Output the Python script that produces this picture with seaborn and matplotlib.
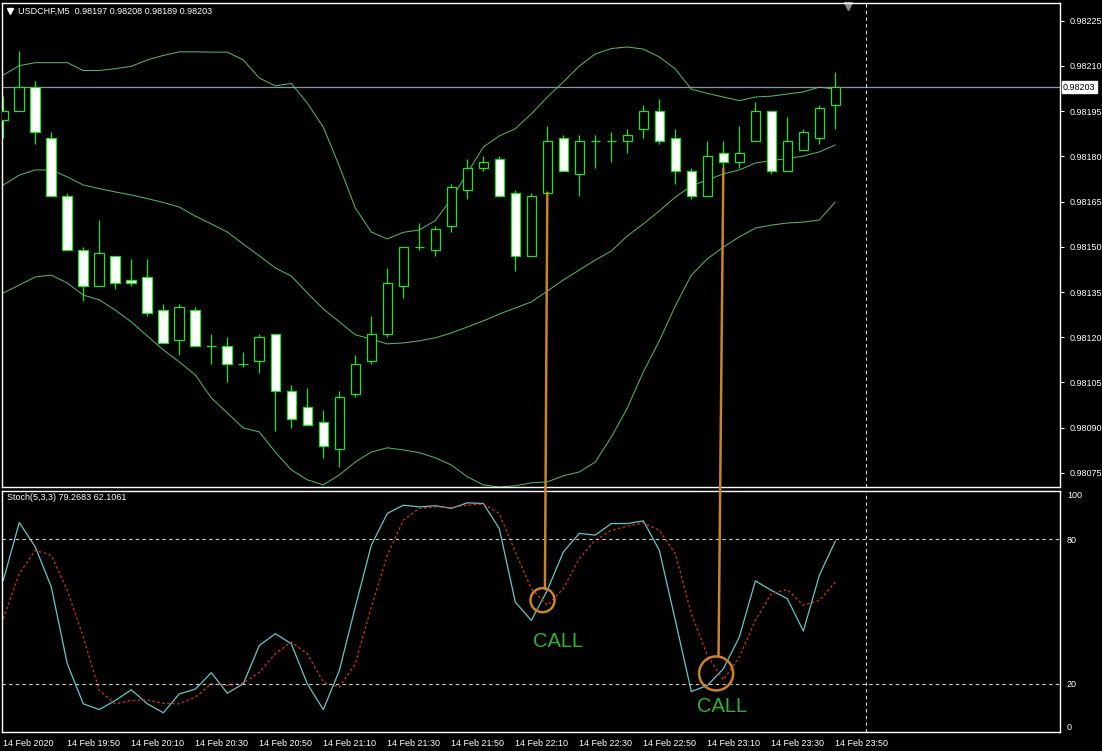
import matplotlib.pyplot as plt
import numpy as np
import pandas as pd
import seaborn as sns
from matplotlib.patches import ConnectionPatch
from matplotlib.transforms import blended_transform_factory

# USDCHF M5, 14 Feb 2020 19:30 .. 23:50
times = pd.date_range('2020-02-14 19:30', periods=53, freq='5min')

opens = [0.98192, 0.98195, 0.98203, 0.98186, 0.98167, 0.98149, 0.98137, 0.98147, 0.98139, 0.98140,
         0.98129, 0.98119, 0.98129, 0.98117, 0.98117, 0.98111, 0.98112, 0.98121, 0.98102, 0.98097,
         0.98092, 0.98083, 0.98101, 0.98112, 0.98121, 0.98137, 0.98150, 0.98149, 0.98157, 0.98169,
         0.98176, 0.98179, 0.98168, 0.98147, 0.98168, 0.98186, 0.98174, 0.98185, 0.98185, 0.98185,
         0.98189, 0.98195, 0.98186, 0.98175, 0.98167, 0.98181, 0.98178, 0.98185, 0.98195, 0.98175,
         0.98182, 0.98186, 0.98197]
highs = [0.98200, 0.98215, 0.98205, 0.98188, 0.98168, 0.98150, 0.98159, 0.98147, 0.98146, 0.98146,
         0.98131, 0.98131, 0.98130, 0.98121, 0.98120, 0.98115, 0.98121, 0.98121, 0.98104, 0.98103,
         0.98096, 0.98102, 0.98114, 0.98127, 0.98143, 0.98150, 0.98158, 0.98157, 0.98171, 0.98179,
         0.98180, 0.98180, 0.98169, 0.98168, 0.98190, 0.98187, 0.98187, 0.98187, 0.98188, 0.98189,
         0.98197, 0.98199, 0.98189, 0.98176, 0.98185, 0.98185, 0.98190, 0.98198, 0.98195, 0.98193,
         0.98189, 0.98197, 0.98208]
lows = [0.98186, 0.98195, 0.98184, 0.98167, 0.98149, 0.98132, 0.98137, 0.98136, 0.98137, 0.98127,
        0.98118, 0.98114, 0.98117, 0.98111, 0.98105, 0.98110, 0.98108, 0.98089, 0.98090, 0.98091,
        0.98080, 0.98077, 0.98100, 0.98111, 0.98120, 0.98133, 0.98149, 0.98147, 0.98155, 0.98166,
        0.98175, 0.98167, 0.98142, 0.98147, 0.98168, 0.98175, 0.98167, 0.98176, 0.98178, 0.98181,
        0.98186, 0.98184, 0.98171, 0.98166, 0.98167, 0.98176, 0.98176, 0.98185, 0.98174, 0.98175,
        0.98182, 0.98184, 0.98189]
closes = [0.98195, 0.98203, 0.98188, 0.98167, 0.98149, 0.98137, 0.98148, 0.98138, 0.98138, 0.98128,
          0.98118, 0.98130, 0.98117, 0.98117, 0.98111, 0.98111, 0.98120, 0.98102, 0.98093, 0.98091,
          0.98084, 0.98100, 0.98111, 0.98121, 0.98138, 0.98150, 0.98150, 0.98156, 0.98170, 0.98176,
          0.98178, 0.98167, 0.98147, 0.98167, 0.98185, 0.98175, 0.98185, 0.98185, 0.98185, 0.98187,
          0.98195, 0.98185, 0.98175, 0.98167, 0.98180, 0.98178, 0.98181, 0.98195, 0.98175, 0.98185,
          0.98188, 0.98196, 0.98203]

# Bollinger bands
bb_upper = [0.982070, 0.982101, 0.982111, 0.982111, 0.982111, 0.982085, 0.982085, 0.982091, 0.982099, 0.982120,
            0.982135, 0.982147, 0.982147, 0.982146, 0.982146, 0.982120, 0.982060, 0.982034, 0.982042, 0.981977,
            0.981897, 0.981768, 0.981629, 0.981549, 0.981526, 0.981548, 0.981556, 0.981587, 0.981659, 0.981745,
            0.981831, 0.981868, 0.981892, 0.981941, 0.981997, 0.982047, 0.982100, 0.982140, 0.982158, 0.982163,
            0.982156, 0.982130, 0.982090, 0.982023, 0.982009, 0.981997, 0.981985, 0.981997, 0.982000, 0.982007,
            0.982014, 0.982030, 0.982023]
bb_middle = [0.981705, 0.981738, 0.981755, 0.981755, 0.981732, 0.981705, 0.981693, 0.981682, 0.981672, 0.981660,
             0.981647, 0.981632, 0.981602, 0.981576, 0.981549, 0.981509, 0.981470, 0.981430, 0.981403, 0.981347,
             0.981294, 0.981251, 0.981208, 0.981194, 0.981178, 0.981181, 0.981188, 0.981198, 0.981214, 0.981234,
             0.981254, 0.981277, 0.981297, 0.981317, 0.981353, 0.981390, 0.981423, 0.981456, 0.981486, 0.981536,
             0.981576, 0.981619, 0.981665, 0.981702, 0.981722, 0.981742, 0.981755, 0.981778, 0.981786, 0.981793,
             0.981801, 0.981815, 0.981838]
bb_lower = [0.981347, 0.981373, 0.981400, 0.981406, 0.981380, 0.981340, 0.981324, 0.981290, 0.981251, 0.981204,
            0.981158, 0.981118, 0.981075, 0.980999, 0.980949, 0.980899, 0.980886, 0.980819, 0.980760, 0.980727,
            0.980710, 0.980743, 0.980786, 0.980819, 0.980833, 0.980826, 0.980817, 0.980800, 0.980776, 0.980737,
            0.980710, 0.980703, 0.980707, 0.980717, 0.980720, 0.980740, 0.980753, 0.980786, 0.980869, 0.980965,
            0.981085, 0.981188, 0.981304, 0.981406, 0.981460, 0.981499, 0.981533, 0.981562, 0.981572, 0.981579,
            0.981582, 0.981589, 0.981649]

# Stochastic (5,3,3): main and signal
stoch_k = [62.9, 86.9, 76.8, 60.2, 28.3, 11.7, 9.3, 13.1, 17.5, 11.7,
           8.0, 15.8, 17.8, 24.6, 16.1, 20.0, 35.9, 40.8, 36.6, 20.0,
           9.3, 25.5, 51.9, 77.5, 90.7, 94.1, 93.4, 93.9, 92.8, 95.1,
           94.8, 84.4, 53.9, 46.3, 58.8, 74.7, 82.4, 81.7, 86.5, 86.5,
           87.6, 75.4, 46.3, 16.8, 19.3, 26.2, 39.4, 62.7, 58.8, 55.3,
           41.9, 65.0, 79.27]
stoch_d = [47.0, 65.7, 75.4, 73.3, 58.8, 39.4, 17.2, 11.7, 13.1, 13.3,
           11.9, 11.7, 14.4, 20.0, 19.3, 20.3, 24.8, 32.5, 37.3, 32.5,
           20.7, 18.6, 28.3, 51.9, 73.3, 87.9, 92.8, 93.4, 93.2, 94.1,
           94.6, 90.7, 74.7, 59.5, 52.6, 59.5, 72.0, 79.6, 83.7, 85.4,
           86.8, 83.7, 74.0, 49.1, 31.8, 21.6, 31.1, 46.3, 57.4, 59.1,
           52.6, 54.6, 62.11]

time_labels = ['14 Feb 2020', '14 Feb 19:50', '14 Feb 20:10', '14 Feb 20:30', '14 Feb 20:50',
               '14 Feb 21:10', '14 Feb 21:30', '14 Feb 21:50', '14 Feb 22:10', '14 Feb 22:30',
               '14 Feb 22:50', '14 Feb 23:10', '14 Feb 23:30', '14 Feb 23:50']
price_ticks = [0.98075, 0.98090, 0.98105, 0.98120, 0.98135, 0.98150,
               0.98165, 0.98180, 0.98195, 0.98210, 0.98225]
last_price = 0.98203

# CALL signals: bar of the arrow, stochastic crossing point, label spot
call_bars = [34, 45]
call_cross_bar = [33.7, 44.55]
call_cross_val = [54.7, 24.3]
call_text_bar = [34.7, 44.95]
call_text_val = [37.6, 10.4]

df = pd.DataFrame({'bar': np.arange(len(times)), 'open': opens, 'high': highs,
                   'low': lows, 'close': closes, 'upper': bb_upper, 'middle': bb_middle,
                   'lower': bb_lower, 'k': stoch_k, 'd': stoch_d})

sns.set_theme(style='dark', rc={'axes.facecolor': 'black', 'figure.facecolor': 'black',
                                'axes.edgecolor': 'white', 'text.color': 'white',
                                'xtick.color': 'white', 'ytick.color': 'white', 'axes.grid': False})
plt.rcParams['font.family'] = ['Liberation Sans', 'DejaVu Sans']

GREEN = '#22e022'
BAND = '#4fb56c'
ORANGE = '#c98328'

W, H = 1102, 751
fig = plt.figure(figsize=(W / 100, H / 100), dpi=100, facecolor='black')


def px_axes(x0, y0, x1, y1):
    return fig.add_axes([x0 / W, 1 - y1 / H, (x1 - x0) / W, (y1 - y0) / H])


ax = px_axes(2, 3, 1060, 487)
ax2 = px_axes(2, 491, 1060, 732)
xlim = (-0.08, 66.04)

# ---- price panel ----
ax.vlines(df['bar'], df['low'], df['high'], color=GREEN, lw=0.9, zorder=2)
bear = df['close'] < df['open']
body_lo = np.minimum(df['open'], df['close'])
body_h = np.abs(df['close'] - df['open'])
ax.bar(df['bar'], body_h, bottom=body_lo, width=0.6,
       color=np.where(bear, 'white', 'black'), edgecolor=GREEN, linewidth=0.9, zorder=3)

for col in ['upper', 'middle', 'lower']:
    sns.lineplot(data=df, x='bar', y=col, ax=ax, color=BAND, lw=0.75, zorder=1)

ax.axhline(last_price, color='#8a97a6', lw=0.9, zorder=1)
ax.set_xlim(*xlim)
ax.set_ylim(0.980703, 0.982309)
ax.yaxis.tick_right()
ax.set_yticks(price_ticks)
ax.set_yticklabels([f'{p:.5f}' for p in price_ticks], fontsize=6.5, color='white')
ax.tick_params(axis='y', direction='out', length=3, width=0.8, pad=4, colors='white')
ax.set_xticks([])
ax.set_xlabel('')
ax.set_ylabel('')
tr = blended_transform_factory(ax.transAxes, ax.transData)
ax.text(1.0 + 3 / 1058, last_price, f'{last_price:.5f}', transform=tr, ha='left', va='center',
        fontsize=6.5, color='black',
        bbox=dict(boxstyle='square,pad=0.15', facecolor='white', edgecolor='white'))
ax.text(16 / 1058, 1 - 8 / 484, 'USDCHF,M5  0.98197 0.98208 0.98189 0.98203', transform=ax.transAxes,
        ha='left', va='center', fontsize=6.5, color='white')
ax.plot([8 / 1058], [1 - 8 / 484], marker='v', ms=4, color='white', transform=ax.transAxes, clip_on=False)
ax.plot([846 / 1058], [1 - 3 / 484], marker='v', ms=6, color='#8c8c8c', transform=ax.transAxes, clip_on=False)

# ---- stochastic panel ----
sns.lineplot(data=df, x='bar', y='k', ax=ax2, color='#63c8c8', lw=0.9)
sns.lineplot(data=df, x='bar', y='d', ax=ax2, color='#e0302e', lw=0.9, linestyle=(0, (2, 2)))
for lvl in (80, 20):
    ax2.axhline(lvl, color='#d0d0d0', lw=0.8, linestyle=(0, (3, 3)))
ax2.set_xlim(*xlim)
ax2.set_ylim(0, 100)
ax2.yaxis.tick_right()
ax2.set_yticks([0, 20, 80, 100])
ax2.set_yticklabels(['0', '20', '80', '100'], fontsize=6.5, color='white')
ylabs = ax2.get_yticklabels()
ylabs[0].set_va('bottom')
ylabs[-1].set_va('top')
ax2.tick_params(axis='y', length=0, pad=5)
ax2.set_xticks(df['bar'][::4])
ax2.set_xticklabels(time_labels, fontsize=6.5, color='white')
for lbl in ax2.get_xticklabels():
    lbl.set_ha('left')
ax2.tick_params(axis='x', direction='out', length=4, width=0.8, pad=1, colors='white')
ax2.set_xlabel('')
ax2.set_ylabel('')
ax2.text(5 / 1058, 1 - 7 / 241, 'Stoch(5,3,3) 79.2683 62.1061', transform=ax2.transAxes,
         ha='left', va='center', fontsize=6.5, color='white')

# shift separator
for a in (ax, ax2):
    a.axvline(53.9, color='#d8d8d8', lw=0.8, linestyle=(0, (3, 3)))
    for s in a.spines.values():
        s.set_color('white')
        s.set_linewidth(1.0)

# CALL annotations
circle_sizes = [300, 600]
circle_r = [4.6, 7.1]
for i, b in enumerate(call_bars):
    cx, cy = call_cross_bar[i], call_cross_val[i]
    ax2.scatter([cx], [cy], s=circle_sizes[i], facecolors='none', edgecolors=ORANGE,
                linewidths=1.8, zorder=5)
    con = ConnectionPatch(xyA=(b, lows[b]), coordsA=ax.transData,
                          xyB=(cx + 0.15, cy + circle_r[i]), coordsB=ax2.transData,
                          color=ORANGE, lw=1.8)
    fig.add_artist(con)
    ax2.text(call_text_bar[i], call_text_val[i], 'CALL', ha='center', va='center',
             fontsize=14.5, color='#2db52d')

fig.savefig('out.png', dpi=100, facecolor='black')
